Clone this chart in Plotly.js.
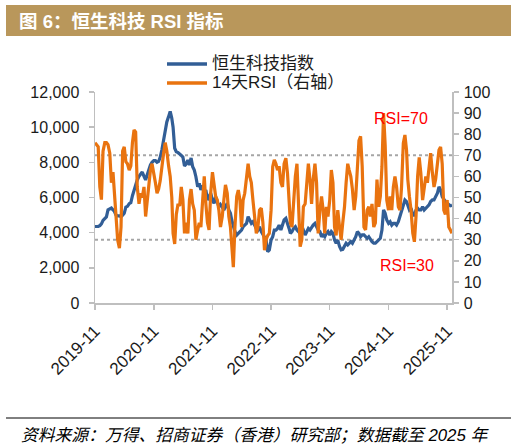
<!DOCTYPE html>
<html>
<head>
<meta charset="utf-8">
<script src="https://cdn.plot.ly/plotly-3.0.1.min.js"></script>
<style>
html,body{margin:0;padding:0;background:#fff;}
#chart{width:517px;height:448px;}
</style>
</head>
<body>
<div id="chart"></div>
<script>
const dates = [
'2019-11-01','2019-11-11','2019-11-21','2019-12-01','2019-12-11','2019-12-21',
'2020-01-01','2020-01-11','2020-01-21','2020-02-01','2020-02-11','2020-02-21','2020-03-01','2020-03-11','2020-03-21','2020-04-01','2020-04-11','2020-04-21',
'2020-05-01','2020-05-11','2020-05-21','2020-06-01','2020-06-11','2020-06-21','2020-07-01','2020-07-11','2020-07-21','2020-08-01','2020-08-11','2020-08-21',
'2020-09-01','2020-09-11','2020-09-21','2020-10-01','2020-10-11','2020-10-21','2020-11-01','2020-11-11','2020-11-21','2020-12-01','2020-12-11','2020-12-21',
'2021-01-01','2021-01-11','2021-01-21','2021-02-01','2021-02-11','2021-02-21','2021-03-01','2021-03-11','2021-03-21','2021-04-01','2021-04-11','2021-04-21',
'2021-05-01','2021-05-11','2021-05-21','2021-06-01','2021-06-11','2021-06-21','2021-07-01','2021-07-11','2021-07-21','2021-08-01','2021-08-11','2021-08-21',
'2021-09-01','2021-09-11','2021-09-21','2021-10-01','2021-10-11','2021-10-21','2021-11-01','2021-11-11','2021-11-21','2021-12-01','2021-12-11','2021-12-21',
'2022-01-01','2022-01-11','2022-01-21','2022-02-01','2022-02-11','2022-02-21','2022-03-01','2022-03-11','2022-03-21','2022-04-01','2022-04-11','2022-04-21',
'2022-05-01','2022-05-11','2022-05-21','2022-06-01','2022-06-11','2022-06-21','2022-07-01','2022-07-11','2022-07-21','2022-08-01','2022-08-11','2022-08-21',
'2022-09-01','2022-09-11','2022-09-21','2022-10-01','2022-10-11','2022-10-21','2022-11-01','2022-11-11','2022-11-21','2022-12-01','2022-12-11','2022-12-21',
'2023-01-01','2023-01-11','2023-01-21','2023-02-01','2023-02-11','2023-02-21','2023-03-01','2023-03-11','2023-03-21','2023-04-01','2023-04-11','2023-04-21',
'2023-05-01','2023-05-11','2023-05-21','2023-06-01','2023-06-11','2023-06-21','2023-07-01','2023-07-11','2023-07-21','2023-08-01','2023-08-11','2023-08-21',
'2023-09-01','2023-09-11','2023-09-21','2023-10-01','2023-10-11','2023-10-21','2023-11-01','2023-11-11','2023-11-21','2023-12-01','2023-12-11','2023-12-21',
'2024-01-01','2024-01-11','2024-01-21','2024-02-01','2024-02-11','2024-02-21','2024-03-01','2024-03-11','2024-03-21','2024-04-01','2024-04-11','2024-04-21',
'2024-05-01','2024-05-11','2024-05-21','2024-06-01','2024-06-11','2024-06-21','2024-07-01','2024-07-11','2024-07-21','2024-08-01','2024-08-11','2024-08-21',
'2024-09-01','2024-09-11','2024-09-21','2024-10-01','2024-10-11','2024-10-21','2024-11-01','2024-11-11','2024-11-21','2024-12-01','2024-12-11','2024-12-21',
'2025-01-01','2025-01-11','2025-01-21','2025-02-01','2025-02-11','2025-02-21','2025-03-01','2025-03-11','2025-03-21','2025-04-01','2025-04-11','2025-04-21',
'2025-05-01','2025-05-11','2025-05-21','2025-06-01','2025-06-11','2025-06-21','2025-07-01','2025-07-11','2025-07-21','2025-08-01','2025-08-11','2025-08-21',
'2025-09-01','2025-09-11','2025-09-21','2025-10-01','2025-10-11','2025-10-21','2025-11-01','2025-11-11','2025-11-21','2025-12-01'
];

const hstechIndex = [
4350,4350,4350,4400,4500,4700,4800,4900,5300,5350,
5400,5300,5200,5000,4950,4950,4900,5000,5100,5450,
5500,5650,5700,6100,6450,6800,7000,7200,7300,7450,
7200,7000,7300,7600,7850,8000,8100,8100,8000,8050,
8300,8700,9300,9850,10300,10600,10900,10500,10000,8800,
8600,8550,8500,8400,8300,7800,7900,
8130,7850,8250,7750,7560,7180,6610,6800,6430,6700,
6240,6430,5860,6050,6240,5860,5670,6050,5670,5480,
5600,5390,5290,5480,5670,5290,5100,4720,4340,4060,
3870,3960,4060,4150,4340,4430,4530,4910,4720,4530,
4620,4430,4240,4150,4340,4060,3870,3770,3580,2920,
3020,3580,3770,4150,
4150,4240,4430,4150,4530,4720,4810,4430,4240,3960,
4060,4240,4340,4150,4060,3960,4060,4150,3870,4060,
4240,4150,4340,4430,4530,4340,4150,4060,3770,3870,
3770,3960,4060,3870,4060,3960,3580,3400,3580,3210,
3020,3050,3210,3400,3300,3400,3490,3400,3580,3770,
4060,3960,3770,3870,
3870,3770,3680,3770,3580,3490,3400,3400,3490,3580,
3680,4150,5290,5100,4720,4530,4620,4430,4530,4530,
4430,4620,4910,5100,5480,5860,5770,5480,5290,5390,
5000,5000,5290,5390,5290,5290,5480,5290,5390,5480,
5580,5770,5860,5860,6050,6240,6610,6430,6050,5860,
5770,5670,5580,5530,
5550
];

const rsi14 = [
76,75,74,55,49,72,76,76,75,71,
57,62,52,46,30,26,36,72,74,67,
66,63,65,76,82,81,55,47,52,50,
55,41,49,57,63,66,62,57,52,54,
58,66,71,76,72,65,60,50,33,28,
42,47,46,55,49,33,38,
33,48.8,54,47,44,30,34.6,38,36,48.8,
60,47,38,34.6,52,62,55,50.5,48.8,44,
36,41,48.8,56,52,41,36,26.7,17,36,
50.5,53.5,48.8,36,48.8,52,60,66,60,57,
48.8,41,33,36,44,45,38,25,30,32,
33,44,64.6,67.8,
66,63,64.8,57,55,66,68.6,61.6,48.8,38,
36,48.8,60,66,48.8,26.7,30,45.6,47,57,
66,58.5,47,58.5,66,57,33,44,50.5,44,
33,45.6,41,48.8,63,57,36,32,44,36,
30,38,45.6,57,66,63,60,54,44,50.5,
64.8,77,79,64.8,
36,34.6,44,45.6,41,47,36,38,58.5,45.6,
50.5,64.6,90,75,48.8,44,50.5,44,55,60,
55,45.6,44,55,75.7,79.6,72.5,58.5,50.5,44,
33,29,41,60,69,61.6,48.8,55,60,57,
66,71,61.6,55,58.5,64.8,72.5,74,66,44,
42,48.8,36,34.6,
33
];

const rsiLevels = [70, 30];
const rsiLabels = ['RSI=70', 'RSI=30'];
const seriesNames = ['恒生科技指数', '14天RSI（右轴）'];
const seriesColors = ['#325E96', '#E9730F'];
const xTickVals = ['2019-11-01','2020-11-01','2021-11-01','2022-11-01','2023-11-01','2024-11-01','2025-11-01'];
const xTickText = ['2019-11','2020-11','2021-11','2022-11','2023-11','2024-11','2025-11'];

const FONT = '"Liberation Sans", Arial, "Noto Sans CJK SC", sans-serif';
const W = 517, H = 448;
const L = 95, R = 452, T = 92, B = 303;
const px = x => (x - L) / (R - L);
const py = y => (B - y) / (B - T);

const traces = [
  {x: dates, y: hstechIndex, name: seriesNames[0], type: 'scatter', mode: 'lines',
   line: {color: seriesColors[0], width: 3.2}, yaxis: 'y', showlegend: false},
  {x: dates, y: rsi14, name: seriesNames[1], type: 'scatter', mode: 'lines',
   line: {color: seriesColors[1], width: 3.2}, yaxis: 'y2', showlegend: false}
];

const shapes = [
  {type: 'rect', xref: 'paper', yref: 'paper', x0: px(6), x1: px(511), y0: py(36), y1: py(5),
   fillcolor: '#B9975B', line: {width: 0}, layer: 'below'},
  {type: 'line', xref: 'paper', yref: 'paper', x0: px(6), x1: px(511), y0: py(418), y1: py(418),
   line: {color: '#000', width: 1}}
];
rsiLevels.forEach(v => shapes.push({type: 'line', xref: 'paper', yref: 'y2', x0: 0, x1: 1, y0: v, y1: v,
  line: {color: '#A6A6A6', width: 2, dash: 'dot'}, layer: 'below'}));

// legend (drawn manually for exact placement)
const legendRows = [64, 83];
seriesNames.forEach((n, i) => {
  shapes.push({type: 'line', xref: 'paper', yref: 'paper', x0: px(167), x1: px(207),
    y0: py(legendRows[i]), y1: py(legendRows[i]), line: {color: seriesColors[i], width: 3.5}});
});

const annotations = [
  {text: '<b>图 6：恒生科技 RSI 指标</b>', xref: 'paper', yref: 'paper', x: px(17), y: py(21),
   xanchor: 'left', yanchor: 'middle', showarrow: false,
   font: {family: FONT, size: 18.5, color: '#fff'}},
  {text: '<i>资料来源：万得、招商证券（香港）研究部；数据截至 2025 年</i>', xref: 'paper', yref: 'paper',
   x: px(19), y: py(435), xanchor: 'left', yanchor: 'middle', showarrow: false,
   font: {family: FONT, size: 16.8, color: '#000'}},
  {text: rsiLabels[0], xref: 'paper', yref: 'paper', x: px(401), y: py(118), xanchor: 'center', yanchor: 'middle',
   showarrow: false, font: {family: FONT, size: 16, color: '#FF0000'}},
  {text: rsiLabels[1], xref: 'paper', yref: 'paper', x: px(407), y: py(265), xanchor: 'center', yanchor: 'middle',
   showarrow: false, font: {family: FONT, size: 16, color: '#FF0000'}}
];
seriesNames.forEach((n, i) => {
  annotations.push({text: n, xref: 'paper', yref: 'paper', x: px(210), y: py(legendRows[i]),
    xanchor: 'left', yanchor: 'middle', showarrow: false,
    font: {family: FONT, size: 17, color: '#1a1a1a'}});
});

const axisCommon = {showline: true, linecolor: '#BFBFBF', linewidth: 1.5, ticks: 'outside', ticklen: 5,
  tickcolor: '#BFBFBF', tickwidth: 1.5, showgrid: false, zeroline: false,
  tickfont: {family: FONT, size: 16, color: '#1a1a1a'}};

const layout = {
  width: W, height: H,
  margin: {l: L, r: W - R, t: T, b: H - B, pad: 0},
  paper_bgcolor: '#fff', plot_bgcolor: '#fff',
  showlegend: false,
  xaxis: Object.assign({}, axisCommon, {type: 'date', range: ['2019-11-01', '2025-12-01'],
    tickvals: xTickVals, ticktext: xTickText, tickangle: -45, ticklabelstandoff: 5,
    tickfont: {family: FONT, size: 17, color: '#1a1a1a'}}),
  yaxis: Object.assign({}, axisCommon, {range: [0, 12000], tick0: 0, dtick: 2000, tickformat: ',d',
    ticklabelstandoff: 6}),
  yaxis2: Object.assign({}, axisCommon, {range: [0, 100], tick0: 0, dtick: 10, overlaying: 'y', side: 'right',
    ticklabelstandoff: 2}),
  shapes: shapes,
  annotations: annotations
};

Plotly.newPlot('chart', traces, layout, {displayModeBar: false, staticPlot: true});
</script>
</body>
</html>
